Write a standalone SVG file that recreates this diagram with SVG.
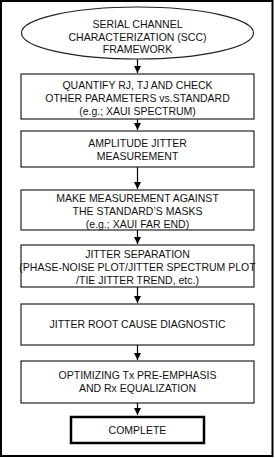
<svg xmlns="http://www.w3.org/2000/svg" width="275" height="458" viewBox="0 0 275 458">
<defs>
<marker id="ah" markerWidth="8" markerHeight="8" refX="7" refY="4" orient="auto" markerUnits="userSpaceOnUse"><path d="M0,0.5 L7,4 L0,7.5 Z" fill="#000"/></marker>
</defs>
<style>
.box{fill:#fff;stroke:#222;stroke-width:1.2}
.t{font-family:"Liberation Sans",Arial,sans-serif;font-size:10.5px;fill:#111;text-anchor:middle}
.c{stroke:#000;stroke-width:1.2;fill:none;marker-end:url(#ah)}
</style>
<rect x="1" y="1" width="271.5" height="455" fill="#fff" stroke="#000" stroke-width="2"/>
<g id="connectors">
<line class="c" x1="137.5" y1="59" x2="137.5" y2="73"/>
<line class="c" x1="137.5" y1="119" x2="137.5" y2="130"/>
<line class="c" x1="137.5" y1="167" x2="137.5" y2="189"/>
<line class="c" x1="137.5" y1="230" x2="137.5" y2="244"/>
<line class="c" x1="137.5" y1="287" x2="137.5" y2="303"/>
<line class="c" x1="137.5" y1="345" x2="137.5" y2="360"/>
<line class="c" x1="137.5" y1="403" x2="137.5" y2="415"/>
</g>
<g id="n0"><ellipse cx="137.5" cy="33" rx="116" ry="26" class="box"/>
<text class="t" x="137.5" y="28">SERIAL CHANNEL</text>
<text class="t" x="137.5" y="40.5">CHARACTERIZATION (SCC)</text>
<text class="t" x="137.5" y="53">FRAMEWORK</text></g>
<g id="n1"><rect class="box" x="21" y="74" width="233" height="45"/>
<text class="t" x="137.5" y="89">QUANTIFY RJ, TJ AND CHECK</text>
<text class="t" x="137.5" y="102">OTHER PARAMETERS vs.STANDARD</text>
<text class="t" x="137.5" y="115">(e.g.; XAUI SPECTRUM)</text></g>
<g id="n2"><rect class="box" x="21" y="131" width="233" height="36"/>
<text class="t" x="137.5" y="147">AMPLITUDE JITTER</text>
<text class="t" x="137.5" y="160">MEASUREMENT</text></g>
<g id="n3"><rect class="box" x="21" y="190" width="233" height="40"/>
<text class="t" x="137.5" y="202">MAKE MEASUREMENT AGAINST</text>
<text class="t" x="137.5" y="215">THE STANDARD’S MASKS</text>
<text class="t" x="137.5" y="228">(e.g.; XAUI FAR END)</text></g>
<g id="n4"><rect class="box" x="21" y="245" width="233" height="42"/>
<text class="t" x="137.5" y="258">JITTER SEPARATION</text>
<text class="t" x="137.5" y="271">(PHASE-NOISE PLOT/JITTER SPECTRUM PLOT</text>
<text class="t" x="137.5" y="284">/TIE JITTER TREND, etc.)</text></g>
<g id="n5"><rect class="box" x="21" y="304" width="233" height="41"/>
<text class="t" x="137.5" y="328">JITTER ROOT CAUSE DIAGNOSTIC</text></g>
<g id="n6"><rect class="box" x="21" y="361" width="233" height="42"/>
<text class="t" x="137.5" y="379">OPTIMIZING Tx PRE-EMPHASIS</text>
<text class="t" x="137.5" y="392">AND Rx EQUALIZATION</text></g>
<g id="n7"><rect x="71" y="417" width="133" height="26" fill="#fff" stroke="#000" stroke-width="2.5"/>
<text class="t" x="137.5" y="434">COMPLETE</text></g>
</svg>
